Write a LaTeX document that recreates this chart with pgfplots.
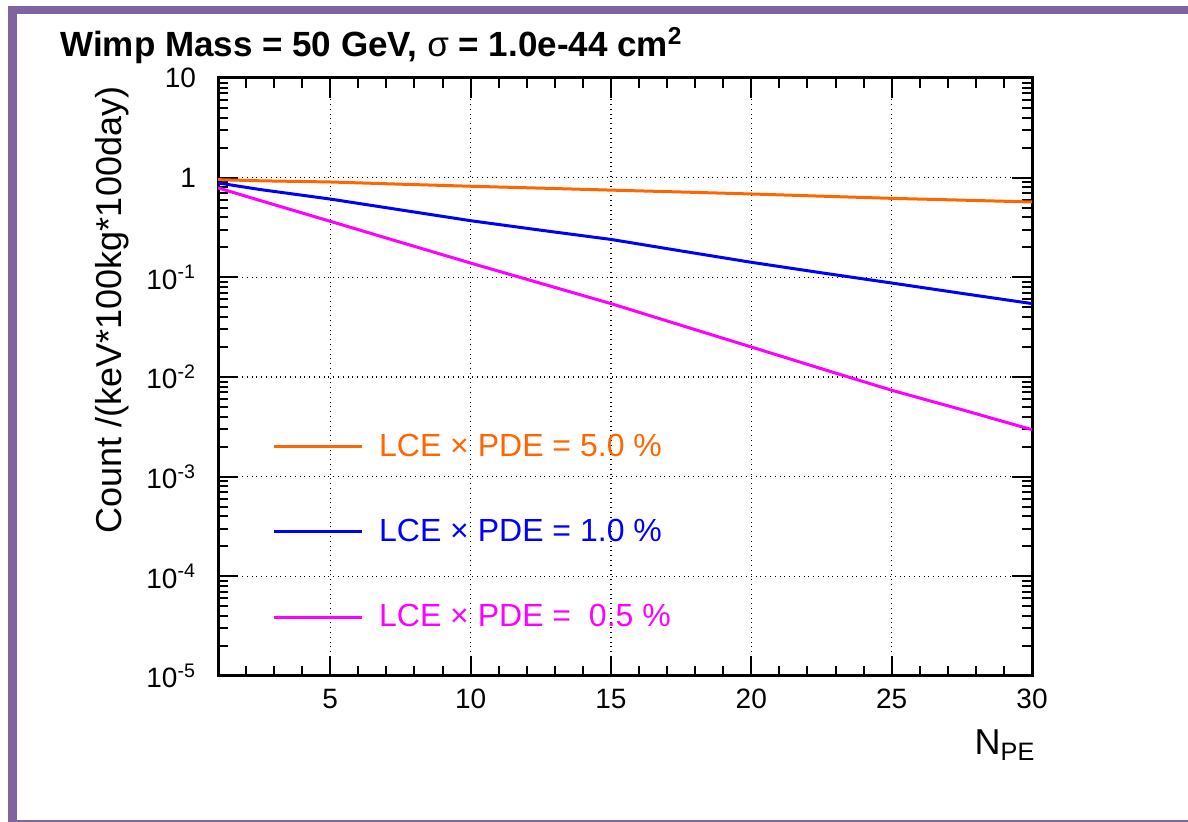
\documentclass[border=0pt]{standalone}
\usepackage{fontspec}
\setmainfont{Liberation Sans}
\usepackage{pgfplots}
\pgfplotsset{compat=1.18}
\definecolor{rorange}{RGB}{255,102,0}
\definecolor{rblue}{RGB}{0,0,255}
\definecolor{rmag}{RGB}{255,0,255}
\definecolor{framepurple}{RGB}{128,100,160}
\begin{document}
\begin{tikzpicture}[x=1pt,y=1pt]
\useasboundingbox (0,0) rectangle (594,411);
\fill[white] (0,0) rectangle (594,411);
% purple frame
\fill[framepurple] (4,0) rectangle (8.5,408);
\fill[framepurple] (4,404) rectangle (594,408);
\fill[framepurple] (4,0) rectangle (594,0.8);
\begin{axis}[
  at={(109pt,73pt)}, anchor=south west,
  scale only axis, width=407pt, height=299pt,
  xmode=normal, ymode=log,
  xmin=1, xmax=30, ymin=1e-5, ymax=10,
  xtick={5,10,15,20,25,30},
  xticklabels={5,10,15,20,25,30},
  minor xtick={2,3,4,6,7,8,9,11,12,13,14,16,17,18,19,21,22,23,24,26,27,28,29},
  ytick={1e-5,1e-4,1e-3,1e-2,1e-1,1,10},
  yticklabels={10\textsuperscript{-5},10\textsuperscript{-4},10\textsuperscript{-3},10\textsuperscript{-2},10\textsuperscript{-1},1,10},
  tick label style={font=\fontsize{14}{16}\selectfont},
  xticklabel style={yshift=-3pt},
  yticklabel style={xshift=-7.5pt},
  tick align=inside,
  major tick length=10pt, minor tick length=5pt,
  every tick/.style={black, line width=1pt},
  axis line style={line width=1.5pt},
  grid=major,
  major grid style={black, dotted, line width=0.6pt},
  legend style={draw=none, fill=none, at={(rel axis cs:0.066,0.241)}, anchor=west,
    font=\fontsize{16}{19}\selectfont, row sep=26pt, inner sep=0pt,
    nodes={inner xsep=5pt}},
  legend cell align=left,
  legend image code/.code={\draw[#1] (0pt,0pt) -- (44pt,0pt);},
]
\addplot[rorange, line width=1.5pt] coordinates {
(1,0.955) (2.5,0.93) (5,0.905) (7.5,0.86) (10,0.82) (12.5,0.785) (15,0.75)
(17.5,0.718) (20,0.686) (22.5,0.652) (25,0.62) (27.5,0.595) (30,0.57)};
\addlegendentry{\hspace*{3pt}\textcolor{rorange}{LCE × PDE = 5.0 \%}}
\addplot[rblue, line width=1.5pt] coordinates {
(1,0.885) (2.5,0.76) (5,0.61) (7.5,0.475) (10,0.37) (12.5,0.297) (15,0.24)
(17.5,0.184) (20,0.1415) (22.5,0.111) (25,0.0877) (27.5,0.069) (30,0.0545)};
\addlegendentry{\hspace*{3pt}\textcolor{rblue}{LCE × PDE = 1.0 \%}}
\addplot[rmag, line width=1.5pt] coordinates {
(1,0.79) (2.5,0.59) (5,0.365) (7.5,0.225) (10,0.139) (12.5,0.087) (15,0.0545)
(17.5,0.033) (20,0.02) (22.5,0.0121) (25,0.00736) (27.5,0.0047) (30,0.00296)};
\addlegendentry{\hspace*{3pt}\textcolor{rmag}{LCE × PDE =\ \ 0.5 \%}}
\end{axis}
\node[anchor=base west, inner sep=0pt, font=\bfseries\fontsize{17.5}{20}\selectfont] at (30,382.5)
  {Wimp Mass = 50 GeV, \textnormal{σ} = 1.0e-44 cm\textsuperscript{2}};
\node[rotate=90, font=\fontsize{18}{21}\selectfont] at (56,256) {Count /(keV*100kg*100day)};
\node[font=\fontsize{18}{21}\selectfont] at (502.5,38.5) {N\textsubscript{PE}};
\end{tikzpicture}
\end{document}
